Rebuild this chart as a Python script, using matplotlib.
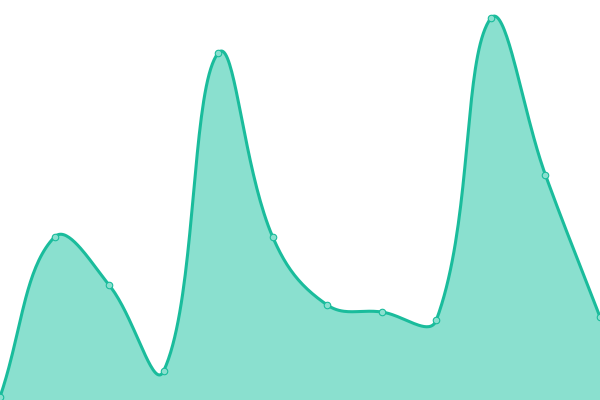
import numpy as np
import matplotlib
matplotlib.use("Agg")
import matplotlib.pyplot as plt

# valores (12 puntos)
x_vals = list(range(12))
y_vals = [3, 163, 115, 29, 347, 163, 95, 88, 80, 382, 225, 83]

LINE = "#1abc9c"
FILL = "#8ae0cf"
W, H = 600, 400


def bezier_spline(xs, ys, tension=0.4, n=40):
    # curva tipo Chart.js: puntos de control según distancias en píxeles
    sx = W / (len(xs) - 1)
    px = np.asarray(xs, float) * sx
    py = np.asarray(ys, float) * (H / 400)
    pts = np.column_stack([px, py])
    m = len(pts)
    cp_prev = np.zeros_like(pts)
    cp_next = np.zeros_like(pts)
    for i in range(m):
        prev = pts[i - 1] if i > 0 else pts[i]
        nxt = pts[i + 1] if i < m - 1 else pts[i]
        d01 = np.hypot(*(pts[i] - prev))
        d12 = np.hypot(*(nxt - pts[i]))
        tot = d01 + d12
        s01 = d01 / tot if tot else 0
        s12 = d12 / tot if tot else 0
        cp_prev[i] = pts[i] - tension * s01 * (nxt - prev)
        cp_next[i] = pts[i] + tension * s12 * (nxt - prev)
    cp_prev[:, 0] = np.clip(cp_prev[:, 0], 0, W)
    cp_next[:, 0] = np.clip(cp_next[:, 0], 0, W)
    cp_prev[:, 1] = np.clip(cp_prev[:, 1], 0, H)
    cp_next[:, 1] = np.clip(cp_next[:, 1], 0, H)
    t = np.linspace(0, 1, n)[:, None]
    segs = []
    for i in range(m - 1):
        p0, p1, p2, p3 = pts[i], cp_next[i], cp_prev[i + 1], pts[i + 1]
        segs.append((1 - t)**3 * p0 + 3 * (1 - t)**2 * t * p1
                    + 3 * (1 - t) * t**2 * p2 + t**3 * p3)
    c = np.vstack(segs)
    return c[:, 0] / sx, c[:, 1] / (H / 400)


cx, cy = bezier_spline(x_vals, y_vals)

fig = plt.figure(figsize=(6, 4), dpi=100)
ax = fig.add_axes([0, 0, 1, 1])
ax.fill_between(cx, cy, 0, color=FILL, lw=0)
ax.plot(cx, cy, color=LINE, lw=2.2, solid_capstyle="round")
ax.scatter(x_vals, y_vals, s=22, color=FILL, edgecolors=LINE, linewidths=0.8, zorder=3)
ax.set_xlim(0, 11)
ax.set_ylim(0, 400)
ax.axis("off")

fig.savefig("out.png", dpi=100)
